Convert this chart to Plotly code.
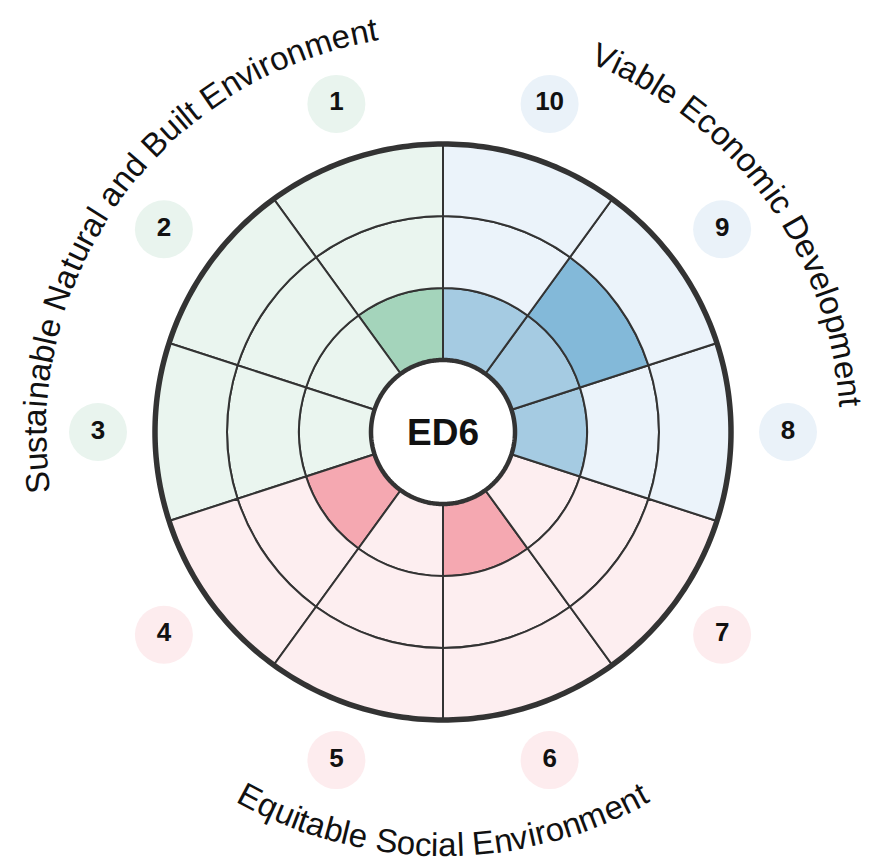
import math
import plotly.graph_objects as go

# ---------------- data ----------------
sector_labels = ["1", "2", "3", "4", "5", "6", "7", "8", "9", "10"]
sector_groups = ["nature", "nature", "nature", "social", "social", "social", "social",
                 "economy", "economy", "economy"]
scores = [1, 0, 0, 1, 0, 1, 0, 1, 2, 1]
levels = [1, 2, 3]
group_titles = {
    "nature": "Sustainable Natural and Built Environment",
    "social": "Equitable Social Environment",
    "economy": "Viable Economic Development",
}
center_label = "ED6"

# ---------------- styles ----------------
light = {"nature": "#eaf5ef", "social": "#fdeef0", "economy": "#ebf3fa"}
level_colors = {
    "nature": ["#a4d4bb", "#7fc29f", "#5aae84"],
    "social": ["#f5a8b1", "#ee8391", "#e35d70"],
    "economy": ["#a5cbe2", "#83b9d9", "#5f9fcb"],
}
badge_colors = {"nature": "#e9f4ee", "social": "#fdecee", "economy": "#eaf2f9"}
LINE = "#333333"

W, H = 870, 866
ML, MR, MT, MB = 11, 11, 0, 18
plot_w, plot_h = W - ML - MR, H - MT - MB
R_px = min(plot_w, plot_h) / 2
unit_px = 72.0
rmax = R_px / unit_px

n = len(sector_labels)
sw = 360.0 / n
thetas = [sw / 2 + sw * i for i in range(n)]

fig = go.Figure()

# rings of cells
for lv in levels:
    cols = []
    for g, s in zip(sector_groups, scores):
        cols.append(level_colors[g][lv - 1] if lv <= s else light[g])
    fig.add_trace(go.Barpolar(
        theta=thetas, r=[1] * n, base=[lv] * n, width=[sw] * n,
        marker=dict(color=cols, line=dict(color=LINE, width=2)),
        hoverinfo="skip", showlegend=False,
    ))

circle_t = [i for i in range(0, 361)]
# outer border
fig.add_trace(go.Scatterpolar(
    theta=circle_t, r=[levels[-1] + 1] * len(circle_t), mode="lines",
    line=dict(color=LINE, width=5.5), hoverinfo="skip", showlegend=False,
))
# center hole
fig.add_trace(go.Scatterpolar(
    theta=circle_t, r=[1] * len(circle_t), mode="lines", fill="toself",
    fillcolor="white", line=dict(color=LINE, width=4.5),
    hoverinfo="skip", showlegend=False,
))
# number badges
fig.add_trace(go.Scatterpolar(
    theta=thetas, r=[345 / unit_px] * n, mode="markers+text",
    marker=dict(size=58, color=[badge_colors[g] for g in sector_groups], line=dict(width=0)),
    text=sector_labels, textposition="middle center",
    textfont=dict(family="Liberation Sans", size=26, color="#111111", weight=700),
    hoverinfo="skip", showlegend=False, cliponaxis=False,
))

# ---------------- curved group titles ----------------
CW = {' ': 278, 'E': 667, 'q': 556, 'u': 556, 'i': 222, 't': 278, 'a': 556, 'b': 556,
      'l': 222, 'e': 556, 'S': 667, 'o': 556, 'c': 500, 'n': 556, 'v': 500, 'r': 333,
      'm': 833, 'N': 722, 'd': 556, 'B': 667, 'V': 667, 'D': 722, 'p': 556, 's': 500}
FS = 33


def to_paper(rp, phi):
    a = math.radians(phi)
    return 0.5 + rp * math.cos(a) / plot_w, 0.5 + rp * math.sin(a) / plot_h


annotations = []
for g, title in group_titles.items():
    members = [t for t, gg in zip(thetas, sector_groups) if gg == g]
    phi_c = 90 + sum(members) / len(members)
    upper = math.sin(math.radians(phi_c)) > 0
    widths = [CW.get(ch, 556) * FS / 1000 for ch in title]
    total = sum(widths)
    if upper:
        r_path = 397.0
        r_c = r_path + 0.347 * FS
    else:
        r_path = 421.0
        r_c = 424.0 - 0.347 * FS
    span = math.degrees(total / r_path)
    cum = 0.0
    for ch, w in zip(title, widths):
        s = cum + w / 2
        cum += w
        if ch == " ":
            continue
        if upper:
            phi = phi_c + span / 2 - math.degrees(s / r_path)
            ang = 90 - phi
        else:
            phi = phi_c - span / 2 + math.degrees(s / r_path)
            ang = 270 - phi
        ang = (ang + 180) % 360 - 180
        x, y = to_paper(r_c, phi)
        annotations.append(dict(
            x=x, y=y, xref="paper", yref="paper", text=ch, showarrow=False,
            textangle=ang, xanchor="center", yanchor="middle",
            font=dict(family="Liberation Sans", size=FS, color="#111111"),
        ))

annotations.append(dict(
    x=0.5, y=0.5, xref="paper", yref="paper", text="<b>" + center_label + "</b>",
    showarrow=False, xanchor="center", yanchor="middle",
    font=dict(family="Liberation Sans", size=37, color="#111111"),
))

fig.update_layout(
    width=W, height=H,
    margin=dict(l=ML, r=MR, t=MT, b=MB),
    paper_bgcolor="white",
    showlegend=False,
    polar=dict(
        domain=dict(x=[0, 1], y=[0, 1]),
        bgcolor="rgba(0,0,0,0)",
        radialaxis=dict(visible=False, range=[0, rmax]),
        angularaxis=dict(visible=False, direction="counterclockwise", rotation=90,
                         showgrid=False, showline=False),
        bargap=0,
    ),
    annotations=annotations,
)

fig.write_html("out.html")
